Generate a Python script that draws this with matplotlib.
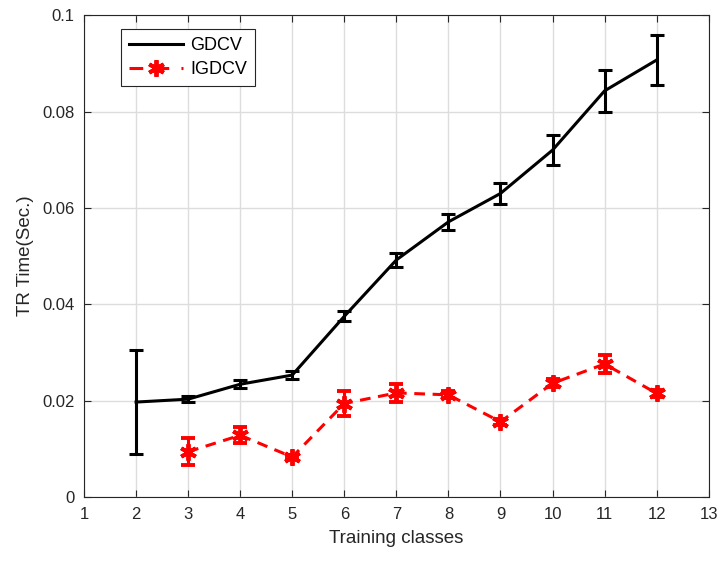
import matplotlib
matplotlib.use("Agg")
import matplotlib.pyplot as plt
from matplotlib.lines import Line2D

plt.rcParams['font.family'] = ['Liberation Sans', 'DejaVu Sans']

# Data
classes_gdcv = [2, 3, 4, 5, 6, 7, 8, 9, 10, 11, 12]
gdcv = [0.0197, 0.0203, 0.0234, 0.0253, 0.0375, 0.0492, 0.0571, 0.0630, 0.0720, 0.0843, 0.0907]
gdcv_err = [0.0108, 0.0006, 0.0008, 0.0008, 0.0010, 0.0015, 0.0017, 0.0022, 0.0032, 0.0044, 0.0051]

classes_igdcv = [3, 4, 5, 6, 7, 8, 9, 10, 11, 12]
igdcv = [0.0094, 0.0128, 0.0083, 0.0194, 0.0216, 0.0212, 0.0156, 0.0236, 0.0276, 0.0215]
igdcv_err = [0.0028, 0.0017, 0.0005, 0.0026, 0.0019, 0.0007, 0.0006, 0.0008, 0.0018, 0.0007]

xticks = list(range(1, 14))
yticks = [0, 0.02, 0.04, 0.06, 0.08, 0.1]
ytick_labels = ["0", "0.02", "0.04", "0.06", "0.08", "0.1"]

RED = "#ff0000"
DASH = (0, (3.5, 2.5))
STAR = (6, 2, 0)

fig = plt.figure(figsize=(7.21, 5.62), dpi=100)
ax = fig.add_axes([0.1165, 0.1157, 0.8665, 0.8573])

ax.errorbar(classes_gdcv, gdcv, yerr=gdcv_err, color="black", linewidth=2.2,
            elinewidth=2.2, capsize=4.7, capthick=2.2)
ax.errorbar(classes_igdcv, igdcv, yerr=igdcv_err, color=RED, linewidth=2.2,
            linestyle=DASH, marker=STAR, markersize=12, markeredgewidth=2.8,
            elinewidth=2.2, capsize=4.7, capthick=2.2)

ax.set_xlim(1, 13)
ax.set_ylim(0, 0.1)
ax.set_xticks(xticks)
ax.set_yticks(yticks)
ax.set_yticklabels(ytick_labels)
ax.tick_params(direction="in", labelsize=12, colors="#262626", length=5, pad=7,
               top=True, right=True)
for sp in ax.spines.values():
    sp.set_color("#262626")
    sp.set_linewidth(0.8)
ax.grid(True, color="#dddddd", linewidth=1)
ax.set_axisbelow(True)

ax.set_xlabel("Training classes", fontsize=13.5, color="#262626", labelpad=6)
ax.set_ylabel("TR Time(Sec.)", fontsize=13.5, color="#262626", labelpad=6)

# legend handles without the error bars
handles = [
    Line2D([], [], color="black", linewidth=2.2),
    Line2D([], [], color=RED, linewidth=2.2, linestyle=(0, (4.5, 4)), marker=STAR,
           markersize=12, markeredgewidth=2.8),
]
leg = ax.legend(handles, ["GDCV", "IGDCV"], loc="upper left",
                bbox_to_anchor=(0.044, 0.99), fontsize=13,
                handlelength=3.0, handletextpad=0.4, fancybox=False, framealpha=1,
                edgecolor="#262626", borderpad=0.45, labelspacing=0.4)
leg.get_frame().set_linewidth(0.8)

fig.savefig("out.png", dpi=100)
